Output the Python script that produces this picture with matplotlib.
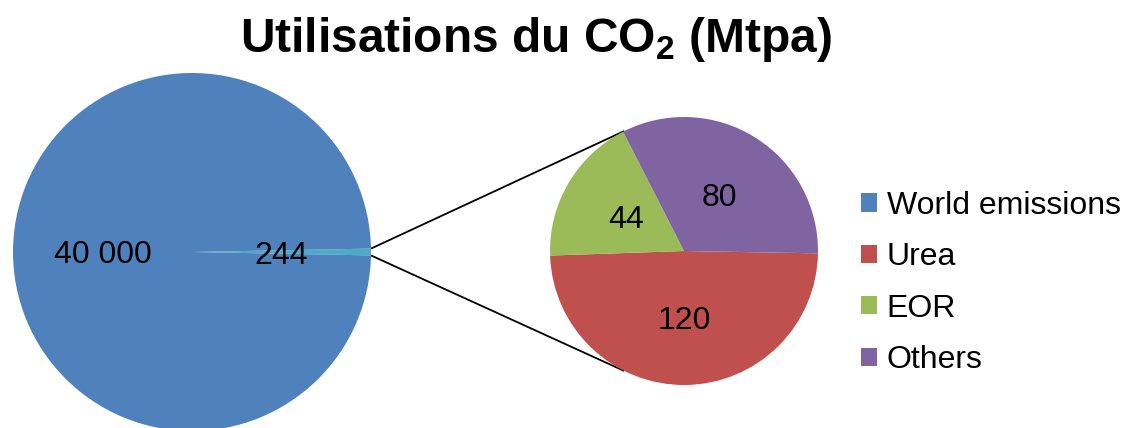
import matplotlib
matplotlib.use("Agg")
import matplotlib.pyplot as plt
from matplotlib.patches import Patch
import numpy as np

plt.rcParams['font.family'] = ['Liberation Sans', 'DejaVu Sans']
plt.rcParams['mathtext.fontset'] = 'custom'
plt.rcParams['mathtext.rm'] = 'Liberation Sans'
plt.rcParams['mathtext.bf'] = 'Liberation Sans:bold'

# Data
main_labels = ["Utilisations", "World emissions"]
main_values = [244, 40000]
sub_labels = ["Urea", "EOR", "Others"]
sub_values = [120, 44, 80]
legend_labels = ["World emissions", "Urea", "EOR", "Others"]

c_blue = "#4F81BD"
c_cyan = "#4BACC6"
sub_colors = ["#C0504D", "#9BBB59", "#8064A2"]

W, H = 1122, 428
fig = plt.figure(figsize=(W / 100, H / 100), dpi=100)
ax = fig.add_axes([0, 0, 1, 1])
ax.set_xlim(0, W)
ax.set_ylim(0, H)
ax.set_aspect('equal')
ax.axis('off')

def fmt(total):
    def f(p):
        v = int(round(p * total / 100.0))
        return f"{v:,}".replace(",", " ")
    return f

label_props = dict(fontsize=23, color='black', va='center_baseline')

# Main pie
c1 = (192, H - 252)
r1 = 179
tot1 = sum(main_values)
small_ang = 360.0 * main_values[0] / tot1
w1, _, t1 = ax.pie(main_values, colors=[c_cyan, c_blue], center=c1, radius=r1,
                   startangle=-small_ang / 2, counterclock=True,
                   autopct=fmt(tot1), pctdistance=0.5,
                   textprops=label_props,
                   wedgeprops=dict(linewidth=0), frame=True)

# Secondary pie
c2 = (684, H - 251)
r2 = 134
tot2 = sum(sub_values)
w2, _, t2 = ax.pie(sub_values, colors=sub_colors, center=c2, radius=r2,
                   startangle=-1, counterclock=False,
                   autopct=fmt(tot2), pctdistance=0.5,
                   textprops=label_props,
                   wedgeprops=dict(linewidth=0), frame=True)
ax.set_xlim(0, W)
ax.set_ylim(0, H)
ax.axis('off')

# Connector lines
for sgn in (1, -1):
    a1 = np.deg2rad(sgn * small_ang / 2)
    a2 = np.deg2rad(sgn * 116.5)
    p1 = (c1[0] + r1 * np.cos(a1), c1[1] + r1 * np.sin(a1))
    p2 = (c2[0] + r2 * np.cos(a2), c2[1] + r2 * np.sin(a2))
    ax.plot([p1[0], p2[0]], [p1[1], p2[1]], color='black', lw=1.3,
            solid_capstyle='butt', zorder=0.5)

# Title
fig.text(536 / W, 1 - 40 / H, r"Utilisations du CO$_\mathbf{2}$ (Mtpa)",
         fontsize=34.5, fontweight='bold', ha='center', va='center')

# Legend
handles = [Patch(facecolor=c, edgecolor='none') for c in [c_blue] + sub_colors]
fig.legend(handles, legend_labels, loc='center left',
           bbox_to_anchor=(861 / W, 1 - 283 / H), frameon=False,
           fontsize=23, handlelength=0.5, handleheight=0.5,
           handletextpad=0.3, labelspacing=0.67, borderpad=0, borderaxespad=0)

fig.savefig("out.png", dpi=100)
